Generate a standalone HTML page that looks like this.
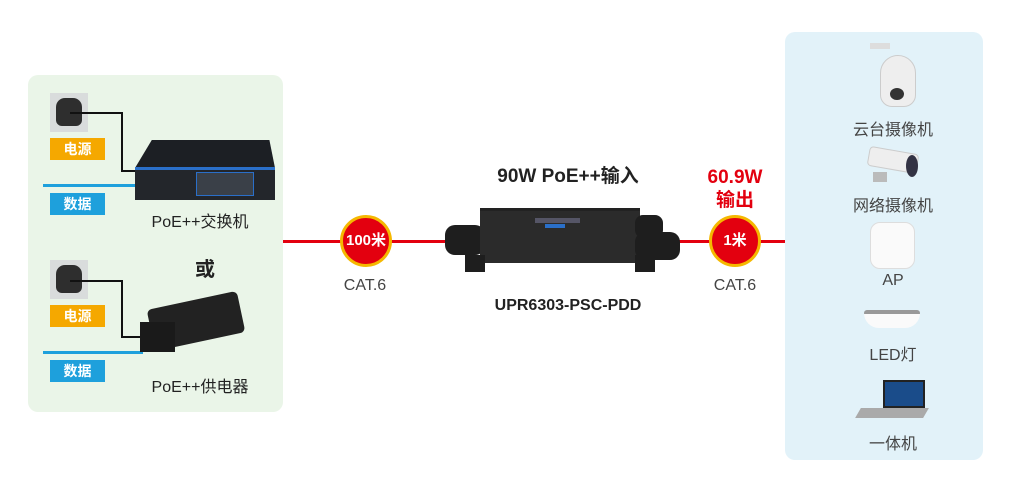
<!DOCTYPE html>
<html><head><meta charset="utf-8"><style>
body{margin:0;width:1010px;height:494px;background:#fff;position:relative;overflow:hidden;font-family:"Liberation Sans","Noto Sans CJK SC",sans-serif}
div{position:absolute;box-sizing:border-box}
.t{white-space:nowrap;text-align:center;transform:translateX(-50%)}
.lab{color:#fff;font-size:14px;font-weight:bold;text-align:center;line-height:22px;width:55px;height:22px}
.sock{width:38px;height:39px;background:#d9dcdc}
.sock:after{content:"";position:absolute;left:6px;top:5px;width:26px;height:28px;background:#2e2e2e;border-radius:9px 9px 6px 6px}
.circ{width:52px;height:52px;border-radius:50%;background:#e3000f;border:3px solid #f5b800;color:#fff;font-weight:bold;font-size:15px;text-align:center;line-height:46px}
.gray{color:#444;font-size:16px}
</style></head><body>
<div style="left:28px;top:75px;width:255px;height:337px;background:#eaf5e8;border-radius:10px"></div>
<div style="left:785px;top:32px;width:198px;height:428px;background:#e2f2f9;border-radius:10px"></div>

<div style="left:283px;top:240px;width:502px;height:3px;background:#e3000f"></div>

<div class="sock" style="left:50px;top:93px"></div>
<div style="left:70px;top:112px;width:53px;height:2px;background:#111"></div>
<div style="left:121px;top:112px;width:2px;height:60px;background:#111"></div>
<div style="left:121px;top:170px;width:16px;height:2px;background:#111"></div>
<div class="lab" style="left:50px;top:138px;background:#f5a800">电源</div>
<div style="left:43px;top:184px;width:94px;height:3px;background:#1ea0dc"></div>
<div class="lab" style="left:50px;top:193px;background:#1ea0dc">数据</div>
<div style="left:135px;top:140px;width:140px;height:28px;background:#1c1f24;clip-path:polygon(12% 0,96% 0,100% 100%,0 100%)"></div>
<div style="left:135px;top:167px;width:140px;height:33px;background:#23262b;border-top:3px solid #2a6fc9"></div>
<div style="left:196px;top:172px;width:58px;height:24px;background:#3a4048;border:1px solid #2a6fc9"></div>
<div class="t" style="left:200px;top:208px;font-size:16px;color:#222">PoE++交换机</div>
<div class="t" style="left:205px;top:253px;font-size:20px;font-weight:bold;color:#222">或</div>

<div class="sock" style="left:50px;top:260px"></div>
<div style="left:70px;top:280px;width:53px;height:2px;background:#111"></div>
<div style="left:121px;top:280px;width:2px;height:58px;background:#111"></div>
<div style="left:121px;top:336px;width:22px;height:2px;background:#111"></div>
<div class="lab" style="left:50px;top:305px;background:#f5a800">电源</div>
<div style="left:43px;top:351px;width:100px;height:3px;background:#1ea0dc"></div>
<div class="lab" style="left:50px;top:360px;background:#1ea0dc">数据</div>
<div style="left:150px;top:300px;width:92px;height:42px;background:#222;transform:rotate(-12deg);border-radius:5px"></div>
<div style="left:140px;top:322px;width:35px;height:30px;background:#1a1a1a"></div>
<div class="t" style="left:200px;top:373px;font-size:16px;color:#222">PoE++供电器</div>

<div class="circ" style="left:340px;top:215px">100米</div>
<div class="t gray" style="left:365px;top:277px">CAT.6</div>
<div class="t" style="left:568px;top:161px;font-size:19px;font-weight:bold;color:#222">90W PoE++输入</div>
<div style="left:445px;top:225px;width:40px;height:30px;background:#1e1e1e;border-radius:10px"></div>
<div style="left:480px;top:208px;width:160px;height:55px;background:#2b2b2b;border-top:3px solid #222"></div>
<div style="left:535px;top:218px;width:45px;height:5px;background:#556"></div>
<div style="left:545px;top:224px;width:20px;height:4px;background:#2a6fc9"></div>
<div style="left:465px;top:255px;width:20px;height:17px;background:#1e1e1e"></div>
<div style="left:635px;top:255px;width:20px;height:17px;background:#1e1e1e"></div>
<div style="left:635px;top:215px;width:28px;height:23px;background:#1e1e1e;border-radius:8px"></div>
<div style="left:635px;top:232px;width:45px;height:28px;background:#1e1e1e;border-radius:10px"></div>
<div class="t" style="left:568px;top:297px;font-size:16px;font-weight:bold;color:#222">UPR6303-PSC-PDD</div>
<div class="t" style="left:735px;top:166px;font-size:19px;font-weight:bold;color:#e3000f;line-height:23px">60.9W<br>输出</div>
<div class="circ" style="left:709px;top:215px">1米</div>
<div class="t gray" style="left:735px;top:277px">CAT.6</div>

<div style="left:880px;top:55px;width:36px;height:52px;background:#eee;border-radius:18px 18px 12px 12px;border:1px solid #ccc"></div>
<div style="left:870px;top:43px;width:20px;height:6px;background:#ddd"></div>
<div style="left:890px;top:88px;width:14px;height:12px;background:#333;border-radius:50%"></div>
<div class="t gray" style="left:893px;top:116px">云台摄像机</div>
<div style="left:868px;top:150px;width:50px;height:20px;background:#eee;border:1px solid #ccc;border-radius:4px;transform:rotate(10deg)"></div>
<div style="left:906px;top:155px;width:12px;height:22px;background:#334;border-radius:50%"></div>
<div style="left:873px;top:172px;width:14px;height:10px;background:#bbb"></div>
<div class="t gray" style="left:893px;top:192px">网络摄像机</div>
<div style="left:870px;top:222px;width:45px;height:47px;background:#fafafa;border:1px solid #ddd;border-radius:10px"></div>
<div class="t gray" style="left:893px;top:272px">AP</div>
<div style="left:864px;top:310px;width:56px;height:18px;background:#fafafa;border-top:4px solid #999;border-radius:4px 4px 20px 20px"></div>
<div class="t gray" style="left:893px;top:341px">LED灯</div>
<div style="left:883px;top:380px;width:42px;height:28px;background:#1a4c8a;border:2px solid #222"></div>
<div style="left:858px;top:408px;width:68px;height:10px;background:#aaa;transform:skewX(-30deg)"></div>
<div class="t gray" style="left:893px;top:430px">一体机</div>
</body></html>
